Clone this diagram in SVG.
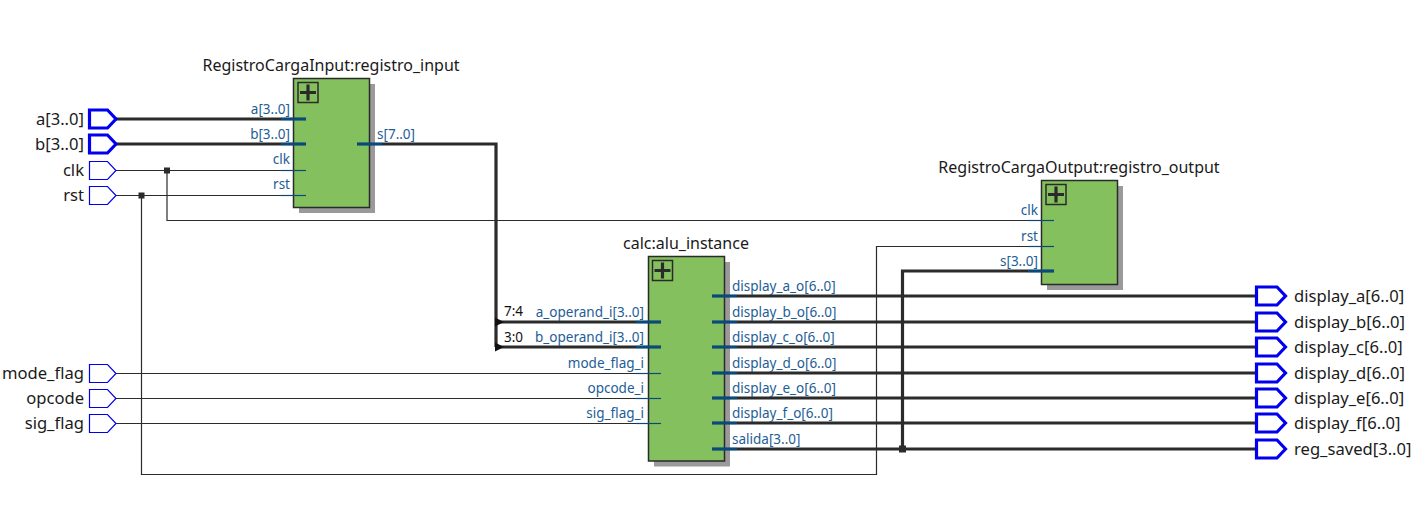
<svg xmlns="http://www.w3.org/2000/svg" width="1416" height="513" viewBox="0 0 1416 513">
<style>
text{font-family:"Noto Sans","DejaVu Sans",sans-serif}
.title{font-size:16px;fill:#1a1a1a}
.port{font-size:16.6px;fill:#1a1a1a}
.pin{font-size:13.5px;fill:#1d5d96}
.bit{font-size:13.5px;fill:#111}
.blk{fill:#85c05f;stroke:#2a2a2a;stroke-width:1.5}
.shd{fill:#9a9a9a}
.icon{fill:none;stroke:#2a2a2a;stroke-width:1.5}
.plus{stroke:#2a2a2a;stroke-width:3.2}
.w{fill:none;stroke:#2b2b2b;stroke-width:1.2}
.bus{fill:none;stroke:#2b2b2b;stroke-width:3.2}
.stub{stroke:#0b4a78;stroke-width:1.2}
.stubb{stroke:#0b4a78;stroke-width:3.2}
.pt{fill:#fff;stroke:#0000ee;stroke-width:1.2}
.ptb{fill:#fff;stroke:#0000ee;stroke-width:3.2}
.dot{fill:#2b2b2b}
.arr{fill:#111}
</style>
<g id="connectors">
<path class="bus" d="M116,119H281"/>
<path class="bus" d="M116,144H281"/>
<path class="w" d="M116,170.5H281M167,170.5V220.5H1028"/>
<path class="w" d="M116,195.5H281M141.5,195.5V474.5H876.5V246.5H1028"/>
<path class="bus" d="M382,144H496V347M496,322H636M496,347H636"/>
<polygon class="arr" points="495,317.5 504,322 495,326.5"/>
<polygon class="arr" points="495,342.5 504,347 495,351.5"/>
<text class="bit" x="504" y="316">7:4</text>
<text class="bit" x="504" y="342">3:0</text>
<path class="w" d="M116,373.5H636M116,398.5H636M116,423.5H636"/>
<path class="bus" d="M737,296H1256M737,322H1256M737,347H1256M737,373H1256M737,398H1256M737,423H1256M737,449H1256"/>
<path class="bus" d="M902.5,449V271H1028"/>
<rect class="dot" x="164" y="167.5" width="6" height="6"/>
<rect class="dot" x="138.5" y="192.5" width="6" height="6"/>
<rect class="dot" x="899" y="445.5" width="7" height="7"/>
</g>
<g id="in_a"><path class="ptb" d="M89.5,110H107.5L116,119L107.5,128H89.5Z"/><text class="port" x="84" y="124.5" text-anchor="end">a[3..0]</text></g>
<g id="in_b"><path class="ptb" d="M89.5,135H107.5L116,144L107.5,153H89.5Z"/><text class="port" x="84" y="149.5" text-anchor="end">b[3..0]</text></g>
<g id="in_clk"><path class="pt" d="M89.5,161.5H107.5L116,170.5L107.5,179.5H89.5Z"/><text class="port" x="84" y="176" text-anchor="end">clk</text></g>
<g id="in_rst"><path class="pt" d="M89.5,186.5H107.5L116,195.5L107.5,204.5H89.5Z"/><text class="port" x="84" y="201" text-anchor="end">rst</text></g>
<g id="in_mode_flag"><path class="pt" d="M89.5,364.5H107.5L116,373.5L107.5,382.5H89.5Z"/><text class="port" x="84" y="379" text-anchor="end">mode_flag</text></g>
<g id="in_opcode"><path class="pt" d="M89.5,389.5H107.5L116,398.5L107.5,407.5H89.5Z"/><text class="port" x="84" y="404" text-anchor="end">opcode</text></g>
<g id="in_sig_flag"><path class="pt" d="M89.5,414.5H107.5L116,423.5L107.5,432.5H89.5Z"/><text class="port" x="84" y="429" text-anchor="end">sig_flag</text></g>
<g id="registro_input">
<text class="title" x="331" y="71" text-anchor="middle">RegistroCargaInput:registro_input</text>
<rect class="shd" x="299" y="84" width="76" height="129"/>
<rect class="blk" x="293.5" y="78.5" width="76" height="129"/>
<rect class="icon" x="298" y="82.5" width="20" height="20"/>
<path class="plus" d="M300,92.5H316M308,84.5V100.5"/>
<line class="stubb" x1="281" y1="119" x2="306" y2="119"/>
<line class="stubb" x1="281" y1="144" x2="306" y2="144"/>
<line class="stub" x1="281" y1="170.5" x2="306" y2="170.5"/>
<line class="stub" x1="281" y1="195.5" x2="306" y2="195.5"/>
<line class="stubb" x1="357" y1="144" x2="382" y2="144"/>
<text class="pin" x="290" y="113.5" text-anchor="end">a[3..0]</text>
<text class="pin" x="290" y="138.5" text-anchor="end">b[3..0]</text>
<text class="pin" x="290" y="164" text-anchor="end">clk</text>
<text class="pin" x="290" y="189" text-anchor="end">rst</text>
<text class="pin" x="377" y="138.5">s[7..0]</text>
</g>
<g id="registro_output">
<text class="title" x="1079" y="173" text-anchor="middle">RegistroCargaOutput:registro_output</text>
<rect class="shd" x="1047" y="186" width="76" height="104"/>
<rect class="blk" x="1041.5" y="180.5" width="76" height="104"/>
<rect class="icon" x="1046" y="184.5" width="20" height="20"/>
<path class="plus" d="M1048,194.5H1064M1056,186.5V202.5"/>
<line class="stub" x1="1028" y1="220.5" x2="1054" y2="220.5"/>
<line class="stub" x1="1028" y1="246.5" x2="1054" y2="246.5"/>
<line class="stubb" x1="1028" y1="271" x2="1054" y2="271"/>
<text class="pin" x="1038" y="215" text-anchor="end">clk</text>
<text class="pin" x="1038" y="241" text-anchor="end">rst</text>
<text class="pin" x="1038" y="266" text-anchor="end">s[3..0]</text>
</g>
<g id="alu_instance">
<text class="title" x="686" y="249" text-anchor="middle">calc:alu_instance</text>
<rect class="shd" x="654" y="262" width="76" height="204.5"/>
<rect class="blk" x="648.5" y="256.5" width="76" height="204.5"/>
<rect class="icon" x="652.5" y="260.5" width="20" height="20"/>
<path class="plus" d="M654.5,270.5H670.5M662.5,262.5V278.5"/>
<line class="stubb" x1="636" y1="322" x2="661" y2="322"/>
<line class="stubb" x1="636" y1="347" x2="661" y2="347"/>
<line class="stub" x1="636" y1="373.5" x2="661" y2="373.5"/>
<line class="stub" x1="636" y1="398.5" x2="661" y2="398.5"/>
<line class="stub" x1="636" y1="423.5" x2="661" y2="423.5"/>
<text class="pin" x="644" y="317" text-anchor="end">a_operand_i[3..0]</text>
<text class="pin" x="644" y="342" text-anchor="end">b_operand_i[3..0]</text>
<text class="pin" x="644" y="368" text-anchor="end">mode_flag_i</text>
<text class="pin" x="644" y="393" text-anchor="end">opcode_i</text>
<text class="pin" x="644" y="418" text-anchor="end">sig_flag_i</text>
<line class="stubb" x1="712" y1="296" x2="737" y2="296"/>
<line class="stubb" x1="712" y1="322" x2="737" y2="322"/>
<line class="stubb" x1="712" y1="347" x2="737" y2="347"/>
<line class="stubb" x1="712" y1="373" x2="737" y2="373"/>
<line class="stubb" x1="712" y1="398" x2="737" y2="398"/>
<line class="stubb" x1="712" y1="423" x2="737" y2="423"/>
<line class="stubb" x1="712" y1="449" x2="737" y2="449"/>
<text class="pin" x="732" y="291">display_a_o[6..0]</text>
<text class="pin" x="732" y="317">display_b_o[6..0]</text>
<text class="pin" x="732" y="342">display_c_o[6..0]</text>
<text class="pin" x="732" y="368">display_d_o[6..0]</text>
<text class="pin" x="732" y="393">display_e_o[6..0]</text>
<text class="pin" x="732" y="418">display_f_o[6..0]</text>
<text class="pin" x="732" y="444">salida[3..0]</text>
</g>
<g id="out_display_a"><path class="ptb" d="M1256.5,287H1277L1285.5,296L1277,305H1256.5Z"/><text class="port" x="1294" y="301.5">display_a[6..0]</text></g>
<g id="out_display_b"><path class="ptb" d="M1256.5,313H1277L1285.5,322L1277,331H1256.5Z"/><text class="port" x="1294" y="327.5">display_b[6..0]</text></g>
<g id="out_display_c"><path class="ptb" d="M1256.5,338H1277L1285.5,347L1277,356H1256.5Z"/><text class="port" x="1294" y="352.5">display_c[6..0]</text></g>
<g id="out_display_d"><path class="ptb" d="M1256.5,364H1277L1285.5,373L1277,382H1256.5Z"/><text class="port" x="1294" y="378.5">display_d[6..0]</text></g>
<g id="out_display_e"><path class="ptb" d="M1256.5,389H1277L1285.5,398L1277,407H1256.5Z"/><text class="port" x="1294" y="403.5">display_e[6..0]</text></g>
<g id="out_display_f"><path class="ptb" d="M1256.5,414H1277L1285.5,423L1277,432H1256.5Z"/><text class="port" x="1294" y="428.5">display_f[6..0]</text></g>
<g id="out_reg_saved"><path class="ptb" d="M1256.5,440H1277L1285.5,449L1277,458H1256.5Z"/><text class="port" x="1294" y="454.5">reg_saved[3..0]</text></g>
</svg>
